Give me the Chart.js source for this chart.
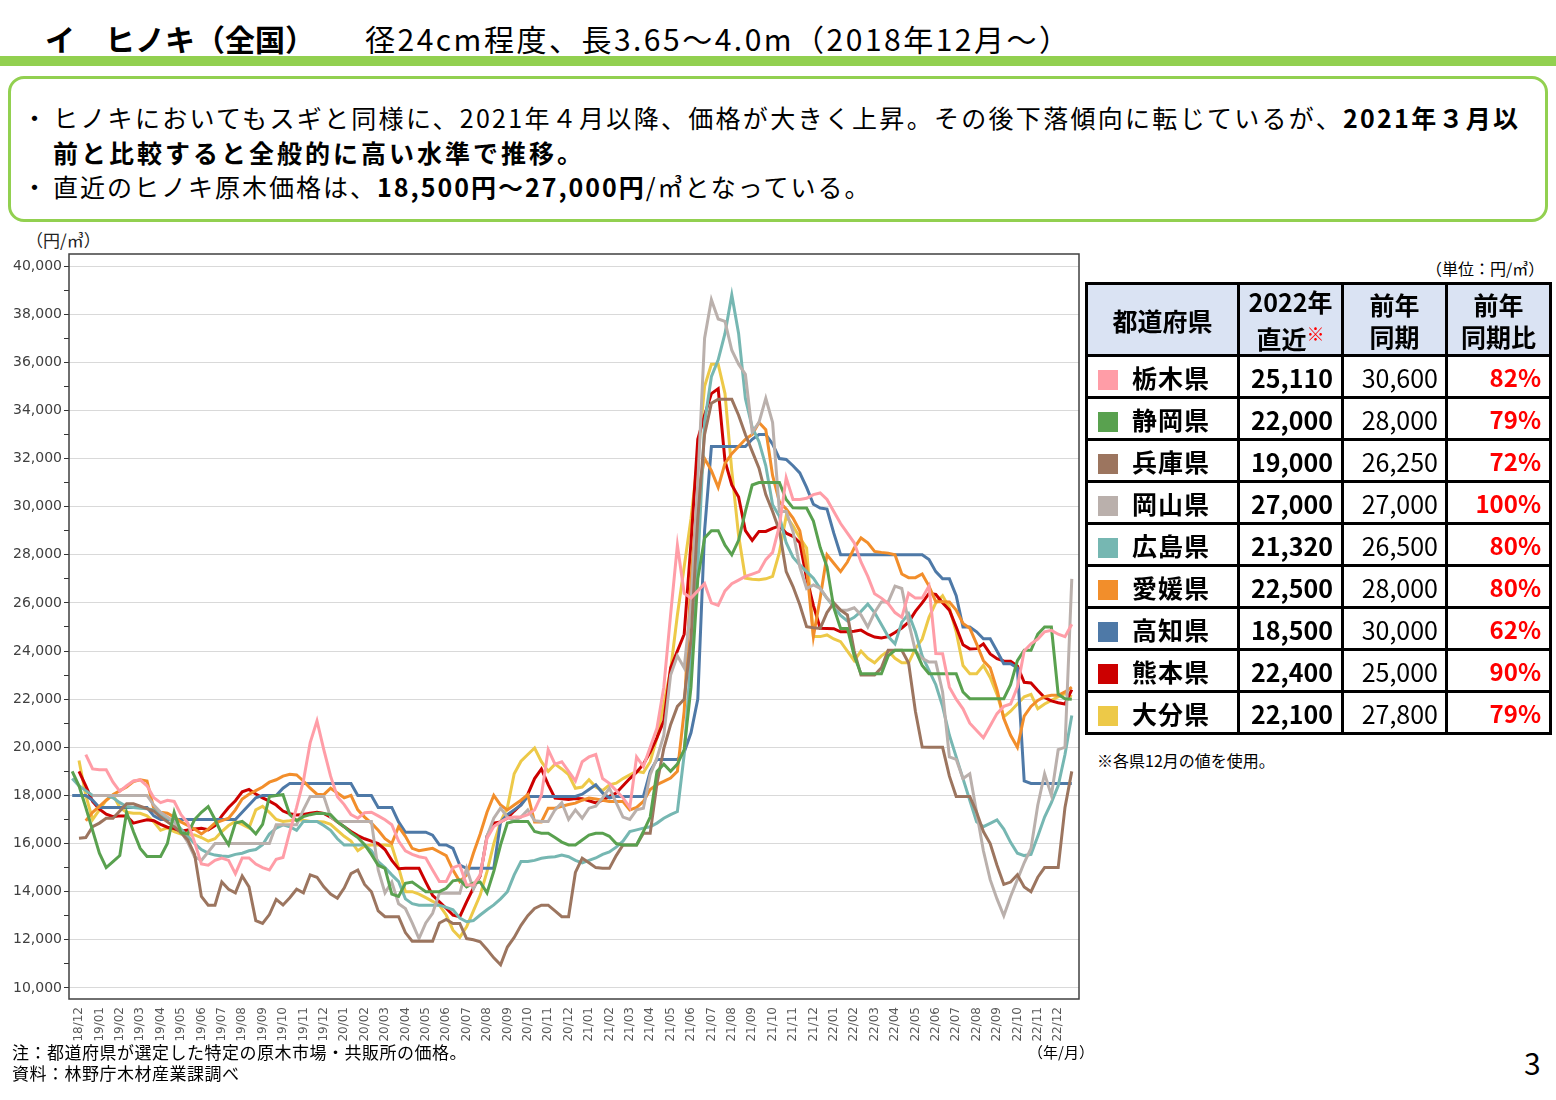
<!DOCTYPE html>
<html lang="ja">
<head>
<meta charset="utf-8">
<title>ヒノキ（全国）原木価格</title>
<script src="https://cdn.jsdelivr.net/npm/chart.js@4.4.1/dist/chart.umd.min.js"></script>
<style>
  html, body { margin: 0; padding: 0; background: #fff; }
  body { width: 1556px; height: 1100px; position: relative; overflow: hidden;
         font-family: "Noto Sans CJK JP", sans-serif; color: #000; }
  .abs { position: absolute; white-space: nowrap; }
  #title1 { left: 45px; top: 20px; font-size: 30px; line-height: 36px; font-weight: bold; }
  #title2 { left: 365px; top: 20px; font-size: 30px; line-height: 36px; letter-spacing: 2.5px; }
  #bar { left: 0; top: 56px; width: 1556px; height: 10px; background: #92d050; }
  #box { left: 8px; top: 76px; width: 1540px; height: 146px; border: 3px solid #92d050;
         border-radius: 16px; box-sizing: border-box; }
  .bl { font-size: 25px; line-height: 30px; }
  .dot { left: 22px; }
  b { font-weight: bold; }
  #ylab { left: 26px; top: 229px; font-size: 17px; line-height: 22px; color: #222; }
  #unit { left: 1426px; top: 257px; font-size: 16px; line-height: 22px; }
  #tbl { position: absolute; left: 1085px; top: 282px; width: 464px; border-collapse: collapse;
         table-layout: fixed; }
  #tbl td, #tbl th { border: 3px solid #000; padding: 0; }
  #tbl th { background: #dae3f3; font-size: 25px; line-height: 32px; font-weight: bold; height: 66px; }
  #tbl td { height: 39px; font-size: 25px; line-height: 36px; }
  .sw { display: inline-block; width: 20px; height: 20px; vertical-align: -2px; margin-left: 10px; }
  .nm { font-weight: bold; margin-left: 14px; letter-spacing: 1px; }
  .c2 { text-align: right; font-weight: bold; padding-right: 8px !important; }
  .c3 { text-align: right; padding-right: 7px !important; }
  .c4 { text-align: right; font-weight: bold; color: #ff0000; padding-right: 8px !important; font-size: 24px !important; }
  .kome { color: #ff0000; font-size: 18px; vertical-align: 8px; }
  #note { left: 1097px; top: 749px; font-size: 16px; line-height: 22px; }
  .foot { left: 12px; font-size: 17px; line-height: 22px; letter-spacing: 0.5px; }
  #ym { left: 1028px; top: 1041px; font-size: 15px; line-height: 22px; }
  #page { left: 1524px; top: 1044px; font-size: 30px; line-height: 36px; }
  #chart { position: absolute; left: 0; top: 240px; }
</style>
</head>
<body>
<div class="abs" id="title1">イ　ヒノキ（全国）</div>
<div class="abs" id="title2">径24cm程度、長3.65～4.0m（2018年12月～）</div>
<div class="abs" id="bar"></div>
<div class="abs" id="box"></div>
<div class="abs bl dot" style="top:102px">・</div>
<div class="abs bl" style="left:53px;top:102px;letter-spacing:2.3px">ヒノキにおいてもスギと同様に、2021年４月以降、価格が大きく上昇。その後下落傾向に転じているが、<b>2021年３月以</b></div>
<div class="abs bl" style="left:53px;top:137px;letter-spacing:3px"><b>前と比較すると全般的に高い水準で推移。</b></div>
<div class="abs bl dot" style="top:171px">・</div>
<div class="abs bl" style="left:53px;top:171px;letter-spacing:2px">直近のヒノキ原木価格は、<b>18,500円～27,000円</b>/㎥となっている。</div>

<div class="abs" id="ylab">（円/㎥）</div>
<canvas id="chart" width="1090" height="812"></canvas>

<div class="abs" id="unit">（単位：円/㎥）</div>
<table id="tbl">
  <colgroup><col style="width:152px"><col style="width:104px"><col style="width:104px"><col style="width:104px"></colgroup>
  <thead><tr><th>都道府県</th><th>2022年<br>直近<span class="kome">※</span></th><th>前年<br>同期</th><th>前年<br>同期比</th></tr></thead>
  <tbody id="tbody"></tbody>
</table>
<div class="abs" id="note">※各県12月の値を使用。</div>

<div class="abs foot" style="top:1041px">注：都道府県が選定した特定の原木市場・共販所の価格。</div>
<div class="abs foot" style="top:1062px">資料：林野庁木材産業課調べ</div>
<div class="abs" id="ym">（年/月）</div>
<div class="abs" id="page">3</div>

<script>
// 月ラベル（軸）
const monthLabels = ['18/12',
  '19/01','19/02','19/03','19/04','19/05','19/06','19/07','19/08','19/09','19/10','19/11','19/12',
  '20/01','20/02','20/03','20/04','20/05','20/06','20/07','20/08','20/09','20/10','20/11','20/12',
  '21/01','21/02','21/03','21/04','21/05','21/06','21/07','21/08','21/09','21/10','21/11','21/12',
  '22/01','22/02','22/03','22/04','22/05','22/06','22/07','22/08','22/09','22/10','22/11','22/12'];

const prefectures = ['栃木県','静岡県','兵庫県','岡山県','広島県','愛媛県','高知県','熊本県','大分県'];

// 旬ごとの価格（円/㎥）、18/11下旬〜22/12下旬
const tochigi = [null, null, 19700, 19100, 19070, 19070, 18550, 18170, 18400, 18600,
  18650, 18400, 17900, 17700, 17800, 17750, 17200, 16850, 16050, 15150,
  15100, 15300, 15400, 15300, 14750, 15400, 15400, 15150, 15000, 14900,
  15350, 15420, 16500, 17500, 18600, 20200, 21100, 19900, 18800, 17950,
  17620, 17200, 17050, 17280, 17300, 17150, 16990, 16780, 16100, 15700,
  15550, 15450, 15400, 14900, 14420, 14420, 15000, 15100, 14280, 14280,
  14700, 16220, 16710, 16900, 17050, 17100, 17100, 17200, 17400, 18000,
  19900, 19300, 19400, 19000, 18600, 19400, 19600, 19700, 18700, 18500,
  18200, 17900, 17500, 19600, 19200, 20000, 20800, 22500, 25500, 28400,
  26400, 26200, 26500, 26800, 26000, 25900, 26500, 26800, 26950, 27100,
  27200, 27300, 27800, 28100, 29200, 31200, 30300, 30300, 30350, 30500,
  30570, 30300, 29800, 29300, 28900, 28500, 27700, 27100, 26380, 26200,
  25970, 25600, 25400, 26400, 26200, 26200, 26700, 23900, 23890, 22500,
  22000, 21600, 21000, 20700, 20400, 20900, 21400, 21700, 21800, 22500,
  24000, 24300, 24500, 24800, 24860, 24700, 24600, 25110];

const shizuoka = [19000, 18400, 17500, 16550, 15600, 15000, 15250, 15500, 17300, 16500,
  15800, 15460, 15460, 15460, 16000, 17300, 16450, 16400, 17000, 17300,
  17540, 17000, 16400, 15950, 16850, 16920, 16700, 16400, 16800, 17950,
  18000, 18030, 17200, 16950, 17120, 17200, 17260, 17250, 17200, 16900,
  16700, 16450, 16250, 15950, 15550, 15100, 14970, 13900, 13800, 14350,
  14400, 14200, 14000, 14000, 14000, 14140, 14450, 14490, 14200, 14350,
  14400, 13950, 14850, 15950, 16850, 16920, 16920, 16920, 16500, 16430,
  16430, 16250, 16060, 15940, 15940, 16150, 16350, 16430, 16430, 16300,
  16000, 15940, 15940, 15940, 16500, 17100, 19000, 19300, 19000, 19300,
  19900, 22500, 27000, 28700, 29000, 29000, 28400, 28000, 28600, 29800,
  30900, 31000, 31000, 31000, 31000, 30300, 29950, 29940, 29940, 29400,
  28300, 27500, 25800, 24940, 24940, 23800, 23060, 23060, 23060, 23060,
  23800, 24030, 24030, 24030, 24030, 23400, 23060, 23060, 23060, 23060,
  23060, 22300, 22020, 22020, 22020, 22020, 22020, 22020, 22600, 23600,
  24030, 24030, 24700, 25000, 25000, 22200, 22020, 22000];

const hyogo = [null, 16220, 16250, 16700, 16850, 17050, 17050, 17350, 17650, 17650,
  17550, 17450, 17350, 17100, 16900, 16700, 16450, 16150, 15550, 13800,
  13440, 13440, 14400, 14100, 13950, 14650, 14200, 12800, 12680, 13050,
  13680, 13450, 13750, 14100, 13950, 14700, 14600, 14200, 13900, 13730,
  14150, 14750, 14900, 14300, 14000, 13200, 12960, 12960, 12960, 12300,
  11940, 11940, 11940, 11940, 12700, 12850, 12680, 12680, 12050, 12000,
  11920, 11600, 11250, 10960, 11700, 12100, 12600, 13000, 13300, 13440,
  13440, 13200, 12960, 12960, 14800, 15390, 15200, 15000, 14970, 14970,
  15500, 15940, 15940, 15940, 16430, 16430, 18500, 19950, 20940, 21700,
  22000, 24500, 29500, 33000, 34300, 34460, 34460, 34460, 33800, 33000,
  32300, 31600, 30500, 29800, 29000, 27300, 26680, 25920, 25010, 24970,
  24940, 25600, 26000, 25700, 25500, 24000, 23000, 23000, 23000, 23300,
  24030, 24030, 24030, 23500, 21500, 20010, 20000, 20000, 20000, 18800,
  17960, 17960, 17960, 17300, 16500, 16000, 15100, 14300, 14400, 14700,
  14200, 14000, 14600, 15000, 15000, 15000, 17500, 19000];

const okayama = [null, null, null, 18000, 18000, 18000, 18000, 18000, 18000, 18000,
  18000, 18000, 17600, 17300, 17100, 16920, 16500, 16050, 15450, 15300,
  15650, 16000, 16000, 16000, 16000, 16000, 16000, 16000, 16000, 16000,
  16780, 16780, 16780, 16780, 17400, 17960, 17960, 17960, 17100, 16920,
  16920, 16920, 16920, 16920, 16920, 14900, 13950, 14400, 13500, 13300,
  12700, 12050, 12700, 13100, 13930, 13930, 13930, 13930, 14970, 14100,
  14700, 16300, 17050, 17470, 17100, 16950, 17100, 17400, 16950, 16920,
  16920, 17400, 17700, 17000, 17400, 17050, 17470, 17550, 17900, 18300,
  17700, 17100, 17000, 17400, 17470, 18860, 19560, 20500, 23000, 23800,
  23300, 26000, 31000, 37000, 38600, 37800, 37700, 36500, 35920, 35500,
  33100, 33500, 34500, 33500, 29800, 29800, 28970, 27500, 26600, 26750,
  26600, 26200, 25900, 25700, 25700, 25800, 25500, 25000, 25600, 26040,
  26040, 26700, 26600, 25200, 24000, 23700, 23540, 23540, 22300, 19600,
  19500, 18700, 18900, 17300, 15700, 14500, 13700, 13000, 13800, 14500,
  15200, 15800, 17600, 18900, 18000, 19900, 20000, 27000];

const hiroshima = [18700, 18400, 18200, 18000, 18000, 18000, 17900, 17700, 17540, 17500,
  17470, 17450, 17400, 17200, 17050, 16900, 16600, 16300, 16000, 15750,
  15600, 15520, 15480, 15460, 15550, 15600, 15700, 15750, 15950, 16400,
  16640, 16780, 16700, 16550, 16920, 16920, 16920, 16750, 16550, 16200,
  15940, 15940, 15940, 15940, 15700, 15250, 15000, 14700, 14420, 13700,
  13500, 13440, 13440, 13440, 13440, 13350, 13250, 12900, 12750, 12800,
  13030, 13250, 13450, 13700, 14000, 14700, 15250, 15250, 15300, 15390,
  15430, 15450, 15520, 15450, 15300, 15200, 15300, 15400, 15550, 15650,
  15850, 16100, 16500, 16570, 16640, 16700, 16850, 17050, 17200, 17330,
  19700, 23800, 27500, 33500, 35400, 36100, 37200, 38800, 37200, 34500,
  33300, 32700, 31700, 30080, 29600, 28500, 27900, 27580, 27300, 27030,
  26600, 26190, 25850, 25480, 25250, 25400, 25650, 25950, 25600, 25100,
  24600, 24300, 25200, 25550, 24800, 23800, 23200, 22600, 21700, 20500,
  19600, 18700, 17800, 16900, 16700, 16840, 16980, 16600, 16050, 15600,
  15500, 15550, 16300, 17100, 17700, 18400, 19700, 21320];

const ehime = [null, null, 16950, 17300, 17550, 17800, 18030, 18200, 18350, 18580,
  18650, 18600, 17450, 17300, 17260, 17100, 16900, 16750, 16600, 16400,
  16600, 16850, 16950, 17050, 17400, 17850, 18050, 18200, 18350, 18550,
  18650, 18800, 18880, 18850, 18600, 18300, 18050, 18030, 18300, 18100,
  17900, 18000, 17400, 17100, 16850, 16550, 16200, 16000, 16700, 16300,
  15800, 15700, 15750, 15800, 15650, 15500, 14900, 14420, 14700, 15600,
  16400, 17300, 18000, 17600, 17400, 17600, 17800, 18030, 16900, 16900,
  17470, 17470, 17550, 17620, 17680, 17800, 17890, 17850, 17800, 17750,
  17750, 17750, 17400, 17500, 17750, 18250, 18450, 18580, 18720, 19000,
  21500, 27000, 30500, 32000, 31500, 30800, 31800, 32200, 32500, 32800,
  33000, 33500, 33200, 31300, 30200, 29900, 29530, 29000, 27500, 24600,
  26200, 28000, 27650, 27300, 27700, 28280, 28700, 28500, 28140, 28100,
  28070, 28000, 27200, 27050, 27050, 27200, 26700, 26050, 26050, 26040,
  25700, 25150, 24950, 24300, 23600, 23300, 22400, 21200, 20500, 20000,
  21300, 21700, 21950, 22100, 22160, 22160, 22300, 22500];

const kochi = [18000, 18000, 18000, 17800, 17500, 17500, 17500, 17500, 17500, 17500,
  17500, 17500, 17150, 17000, 17000, 17000, 17000, 17000, 17000, 17000,
  17000, 17000, 17000, 17000, 17000, 17300, 17600, 17900, 18000, 18000,
  18000, 18300, 18500, 18500, 18500, 18500, 18500, 18500, 18500, 18500,
  18500, 18500, 18000, 18000, 18000, 17500, 17500, 17500, 16900, 16470,
  16470, 16470, 16470, 16350, 15950, 15940, 15800, 15100, 14970, 14970,
  14970, 14970, 14970, 16900, 17200, 17400, 17600, 17960, 17960, 17960,
  17960, 17960, 17960, 17960, 17960, 18050, 18250, 18440, 18100, 17900,
  17960, 17960, 17960, 17960, 17960, 19000, 19490, 19490, 19490, 19490,
  19800, 20600, 22000, 29000, 32500, 32500, 32500, 32500, 32500, 32500,
  32800, 33000, 33000, 32600, 32000, 31960, 31700, 31400, 30800, 30100,
  29940, 29900, 28900, 28000, 28000, 28000, 28000, 28000, 28000, 28000,
  28000, 28000, 28000, 28000, 28000, 28000, 27800, 27300, 27000, 27000,
  26300, 25000, 25000, 24800, 24510, 24510, 24000, 23470, 23470, 23300,
  18600, 18500, 18500, 18500, 18500, 18500, 18500, 18500];

const kumamoto = [null, 19000, 18400, 17750, 17430, 17220, 17120, 17150, 17150, 16850,
  16920, 16990, 16950, 16800, 16680, 16620, 16510, 16560, 16600, 16630,
  16570, 16740, 17150, 17500, 17780, 18150, 18250, 18060, 17900, 17760,
  17600, 17350, 17240, 17190, 17210, 17260, 17300, 17250, 17100, 16900,
  16700, 16500, 16330, 16200, 16100, 16000, 15750, 15300, 14950, 14970,
  14970, 14970, 14400, 13850, 13580, 13310, 13030, 12960, 13580, 14150,
  14650, 16300, 16850, 16900, 17060, 17350, 17620, 18050, 18700, 19100,
  18450, 17890, 17860, 17830, 17870, 17860, 17780, 17690, 17800, 17960,
  18100, 18400, 18700, 18960, 19300, 19800, 20400, 21100, 23300, 24000,
  24700, 28500, 32800, 33800, 34700, 34900, 31900, 30900, 30400, 29000,
  28600, 28970, 28970, 29100, 29200, 28900, 28770, 28500, 27030, 25900,
  24950, 24940, 24930, 24800, 24800, 24820, 24870, 24700, 24580, 24540,
  24600, 24770, 24960, 25200, 25650, 26000, 26400, 26350, 26010, 25700,
  25000, 24260, 24090, 24100, 24300, 23880, 23680, 23590, 23580, 23380,
  22700, 22670, 22360, 22070, 21930, 21850, 21800, 22400];

const oita = [null, 19450, 18000, 17000, 17400, 17800, 18030, 17500, 17300, 17260,
  17260, 17150, 16900, 16550, 16650, 16500, 16400, 16360, 16360, 16250,
  16100, 16200, 16500, 16750, 16920, 16800, 16650, 17400, 17550, 17300,
  17000, 16920, 16950, 16990, 16970, 16920, 16920, 16900, 16800, 16550,
  16300, 16100, 15700, 15900, 15940, 15940, 15940, 15900, 15000, 14000,
  14000, 13900, 13750, 13600, 13440, 13030, 12400, 12100, 12540, 13200,
  13860, 14830, 16000, 16900, 17500, 18900, 19420, 19700, 19970, 19400,
  19000, 19300, 19100, 18860, 18300, 18350, 18650, 18350, 18200, 18440,
  18510, 18700, 18860, 19000, 18950, 19400, 20400, 21800, 23200, 25500,
  27500, 29500, 32000, 35000, 35920, 35920, 34700, 31500, 28800, 27030,
  26980, 26960, 27000, 27100, 28100, 29600, 29200, 28700, 28280, 24600,
  24600, 24670, 24500, 24390, 24000, 23600, 24000, 23700, 23510, 23800,
  24000, 23700, 23510, 23510, 24100, 24500, 25400, 26000, 26300, 25800,
  24800, 23400, 23060, 23060, 23400, 22900, 22200, 21260, 21500, 21800,
  22100, 22200, 21600, 21800, 21950, 22100, 22230, 22100];

// 表の値
const latest2022 = [25110, 22000, 19000, 27000, 21320, 22500, 18500, 22400, 22100];
const prevYear = [30600, 28000, 26250, 27000, 26500, 28000, 30000, 25000, 27800];
const ratio = ['82%', '79%', '72%', '100%', '80%', '80%', '62%', '90%', '79%'];

const colors = ['#ff9da7', '#59a14f', '#9c755f', '#bab0ac', '#76b7b2', '#f28e2b', '#4e79a7', '#cc0000', '#edc948'];
const series = [tochigi, shizuoka, hyogo, okayama, hiroshima, ehime, kochi, kumamoto, oita];

// 旬のカテゴリ
const periods = ['18/11下'];
monthLabels.forEach(m => periods.push(m + '上', m + '中', m + '下'));

// 表
const tbody = document.getElementById('tbody');
prefectures.forEach((p, i) => {
    const row = document.createElement('tr');
    row.innerHTML = `
        <td><span class="sw" style="background:${colors[i]}"></span><span class="nm">${p}</span></td>
        <td class="c2">${latest2022[i].toLocaleString('en-US')}</td>
        <td class="c3">${prevYear[i].toLocaleString('en-US')}</td>
        <td class="c4">${ratio[i]}</td>
    `;
    tbody.appendChild(row);
});

// 枠線
const frame = {
    id: 'frame',
    afterDraw(chart) {
        const { ctx, chartArea: a } = chart;
        ctx.save();
        ctx.strokeStyle = '#404040';
        ctx.lineWidth = 1.5;
        ctx.strokeRect(a.left, a.top, a.right - a.left, a.bottom - a.top);
        ctx.restore();
    }
};

const ctx = document.getElementById('chart').getContext('2d');
new Chart(ctx, {
    type: 'line',
    data: {
        labels: periods,
        datasets: series.map((s, idx) => ({
            label: prefectures[idx],
            data: s.map((v, i) => ({ x: i, y: v })),
            borderColor: colors[idx],
            backgroundColor: colors[idx],
            borderWidth: 3,
            pointRadius: 0,
            tension: 0,
            fill: false
        }))
    },
    options: {
        responsive: false,
        animation: false,
        layout: { padding: { top: 14, right: 11, left: 0, bottom: 0 } },
        plugins: { legend: { display: false }, tooltip: { enabled: false } },
        scales: {
            x: {
                type: 'linear',
                min: -0.47,
                max: 148.06,
                afterBuildTicks: s => { s.ticks = monthLabels.map((_, k) => ({ value: 3 * k + 1 })); },
                afterFit: s => { s.height = 53; },
                grid: { display: false, drawTicks: false },
                border: { display: false },
                ticks: {
                    autoSkip: false, minRotation: 90, maxRotation: 90, padding: 8,
                    color: '#595959', font: { family: 'DejaVu Sans', size: 12 },
                    callback: v => monthLabels[(v - 1) / 3]
                }
            },
            y: {
                min: 9540,
                max: 40500,
                afterBuildTicks: s => {
                    const t = [];
                    for (let v = 10000; v <= 40000; v += 1000) t.push({ value: v });
                    s.ticks = t;
                },
                afterFit: s => { s.width = 69; },
                grid: {
                    color: c => (c.tick && c.tick.value % 2000 === 0) ? '#d9d9d9' : 'rgba(0,0,0,0)',
                    tickColor: '#333',
                    tickLength: 5
                },
                border: { display: false },
                ticks: {
                    padding: 2, color: '#404040', font: { family: 'DejaVu Sans', size: 14 },
                    callback: v => v % 2000 === 0 ? v.toLocaleString('en-US') : ''
                }
            }
        }
    },
    plugins: [frame]
});
</script>
</body>
</html>
